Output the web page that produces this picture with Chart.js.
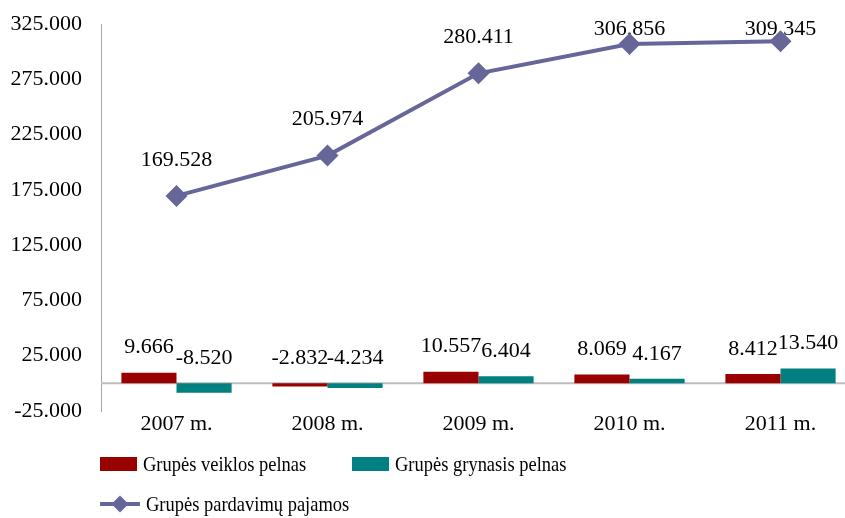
<!DOCTYPE html>
<html lang="lt">
<head>
<meta charset="utf-8">
<title>Grupės rezultatai 2007–2011 m.</title>
<script src="https://cdn.jsdelivr.net/npm/chart.js@4"></script>
<style>
  html, body { margin: 0; padding: 0; background: #fff; overflow: hidden; }
  #wrap { position: relative; width: 867px; height: 518px; }
  #chart { position: absolute; left: 0; top: 0; }
  #legend {
    position: absolute; left: 100px; top: 444px;
    display: grid; grid-template-columns: 252px auto; grid-auto-rows: 40px;
    font-family: 'Liberation Serif', 'Times New Roman', serif; font-size: 22px; color: #000;
  }
  .item { display: flex; align-items: center; white-space: nowrap; }
  .box { width: 37px; height: 14px; flex: none; }
  .lineicon { position: relative; width: 40px; height: 16px; flex: none; }
  .lineicon .stroke { position: absolute; left: 0; right: 0; top: 6px; height: 4px; }
  .lineicon .mark { position: absolute; left: 14px; top: 2px; width: 12px; height: 12px; transform: rotate(45deg); }
  .txt { display: inline-block; margin-left: 6px; transform: scaleX(0.84); transform-origin: left center; }
  .full { grid-column: 1 / span 2; }
</style>
</head>
<body>
<div id="wrap">
  <canvas id="chart" width="867" height="518"></canvas>
  <div id="legend"></div>
</div>
<script>
// Metai
const categories = ['2007 m.', '2008 m.', '2009 m.', '2010 m.', '2011 m.'];
// Grupės veiklos pelnas, tūkst.
const veiklosPelnas = [9666, -2832, 10557, 8069, 8412];
// Grupės grynasis pelnas, tūkst.
const grynasisPelnas = [-8520, -4234, 6404, 4167, 13540];
// Grupės pardavimų pajamos, tūkst.
const pardavimuPajamos = [169528, 205974, 280411, 306856, 309345];
// Vertikalios ašies ribos ir žingsnis
const yMin = -25000;
const yMax = 325000;
const yStep = 50000;

const FONT = "'Liberation Serif', 'Times New Roman', serif";
const RED = '#990000';
const TEAL = '#008080';
const PURPLE = '#666699';

// 309345 -> "309.345"
function fmt(v) {
  const s = Math.abs(Math.round(v)).toString().replace(/\B(?=(\d{3})+(?!\d))/g, '.');
  return (v < 0 ? '-' : '') + s;
}

// Horizontali nulio linija
const zeroLine = {
  id: 'zeroLine',
  beforeDatasetsDraw(chart) {
    const { ctx, chartArea, scales } = chart;
    const y = scales.y.getPixelForValue(0);
    ctx.save();
    ctx.strokeStyle = '#bdbdbd';
    ctx.lineWidth = 2;
    ctx.beginPath();
    ctx.moveTo(chartArea.left, y);
    ctx.lineTo(chartArea.right, y);
    ctx.stroke();
    ctx.restore();
  }
};

// Reikšmių užrašai virš stulpelių ir taškų
const valueLabels = {
  id: 'valueLabels',
  beforeDatasetsDraw(chart) {
    const { ctx, chartArea, scales } = chart;
    const y0 = scales.y.getPixelForValue(0);
    ctx.save();
    ctx.font = '22px ' + FONT;
    ctx.fillStyle = '#000';
    ctx.textAlign = 'center';
    ctx.textBaseline = 'middle';
    chart.data.datasets.forEach((ds, i) => {
      const meta = chart.getDatasetMeta(i);
      meta.data.forEach((el, j) => {
        const v = ds.data[j];
        let y;
        if (ds.type === 'line') {
          y = Math.max(el.y - 36, chartArea.top + 5);
        } else {
          y = Math.min(el.y, y0) - 25;
        }
        ctx.fillText(fmt(v), el.x, y);
      });
    });
    ctx.restore();
  }
};

const chart = new Chart(document.getElementById('chart'), {
  data: {
    labels: categories,
    datasets: [
      {
        type: 'line',
        label: 'Grupės pardavimų pajamos',
        data: pardavimuPajamos,
        borderColor: PURPLE,
        backgroundColor: PURPLE,
        borderWidth: 4,
        pointStyle: 'rectRot',
        pointRadius: 11,
        pointHoverRadius: 11,
        pointBorderWidth: 0,
        tension: 0,
        order: 0
      },
      {
        type: 'bar',
        label: 'Grupės veiklos pelnas',
        data: veiklosPelnas,
        backgroundColor: RED,
        categoryPercentage: 0.73,
        barPercentage: 1,
        order: 1
      },
      {
        type: 'bar',
        label: 'Grupės grynasis pelnas',
        data: grynasisPelnas,
        backgroundColor: TEAL,
        categoryPercentage: 0.73,
        barPercentage: 1,
        order: 1
      }
    ]
  },
  options: {
    responsive: false,
    animation: false,
    layout: { padding: { top: 24, right: 4, bottom: 77, left: 0 } },
    plugins: { legend: { display: false }, tooltip: { enabled: false } },
    scales: {
      x: {
        grid: { display: false, drawTicks: false },
        border: { display: false },
        ticks: { font: { family: FONT, size: 22 }, color: '#000', padding: 0 },
        afterFit(scale) { scale.height = 30; scale.paddingLeft = 0; scale.paddingRight = 0; }
      },
      y: {
        min: yMin,
        max: yMax,
        grid: { display: false, drawTicks: false },
        border: { display: true, color: '#a6a6a6', width: 1 },
        ticks: {
          stepSize: yStep,
          font: { family: FONT, size: 22 },
          color: '#000',
          padding: 19,
          callback: v => fmt(v)
        },
        afterFit(scale) { scale.width = 101; scale.paddingTop = 0; scale.paddingBottom = 0; }
      }
    }
  },
  plugins: [zeroLine, valueLabels]
});

// Legenda iš duomenų rinkinių
const legend = document.getElementById('legend');
const ordered = [chart.data.datasets[1], chart.data.datasets[2], chart.data.datasets[0]];
ordered.forEach(ds => {
  const item = document.createElement('div');
  item.className = 'item' + (ds.type === 'line' ? ' full' : '');
  if (ds.type === 'line') {
    const icon = document.createElement('span');
    icon.className = 'lineicon';
    icon.innerHTML = '<span class="stroke"></span><span class="mark"></span>';
    icon.querySelector('.stroke').style.background = ds.borderColor;
    icon.querySelector('.mark').style.background = ds.backgroundColor;
    item.appendChild(icon);
  } else {
    const box = document.createElement('span');
    box.className = 'box';
    box.style.background = ds.backgroundColor;
    item.appendChild(box);
  }
  const t = document.createElement('span');
  t.className = 'txt';
  t.textContent = ds.label;
  item.appendChild(t);
  legend.appendChild(item);
});
</script>
</body>
</html>
